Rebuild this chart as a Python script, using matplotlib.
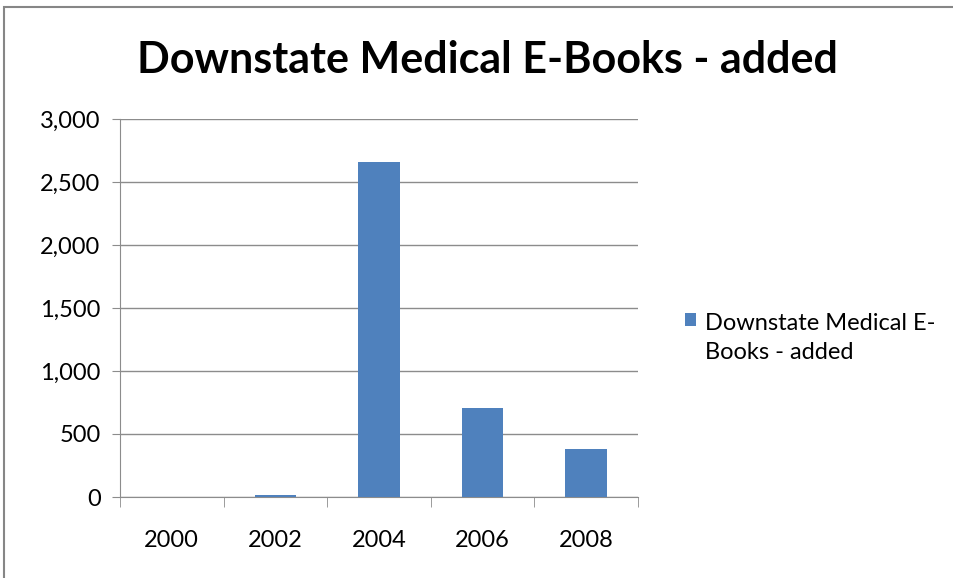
import matplotlib.pyplot as plt
import matplotlib.ticker as mticker
from matplotlib.patches import Rectangle
import numpy as np

years = ['2000', '2002', '2004', '2006', '2008']
ebooks_added = [0, 15, 2660, 706, 381]
series_name = 'Downstate Medical E-\nBooks - added'

plt.rcParams['font.family'] = ['Lato', 'DejaVu Sans']

fig = plt.figure(figsize=(9.54, 5.78), dpi=100)
ax = fig.add_axes([120 / 954, 1 - 497 / 578, 518 / 954, 378 / 578])

x = np.arange(len(years))
ax.bar(x, ebooks_added, width=0.4, color='#4f81bd', label=series_name, zorder=3)

ax.set_xlim(-0.5, len(years) - 0.5)
ax.set_ylim(0, 3000)
ax.yaxis.set_major_locator(mticker.MultipleLocator(500))
ax.yaxis.set_major_formatter(mticker.StrMethodFormatter('{x:,.0f}'))
ax.grid(axis='y', color='#8c8c8c', linewidth=1, zorder=0)

# category labels centered, tick marks between categories
ax.set_xticks(x)
ax.set_xticklabels(years)
ax.set_xticks(np.arange(-0.5, len(years)), minor=True)
ax.tick_params(axis='x', which='major', length=0, pad=24, labelsize=17)
ax.tick_params(axis='x', which='minor', length=7, color='#8c8c8c', direction='out')
ax.tick_params(axis='y', length=6, color='#8c8c8c', labelsize=17, pad=8)

for side in ['top', 'right']:
    ax.spines[side].set_visible(False)
for side in ['left', 'bottom']:
    ax.spines[side].set_color('#8c8c8c')

fig.text(487 / 954, 1 - 60 / 578, 'Downstate Medical E-Books - added',
         ha='center', va='center', fontsize=31, fontweight='bold')

leg = ax.legend(loc='center left', bbox_to_anchor=(664 / 954, 1 - 338 / 578),
                bbox_transform=fig.transFigure, frameon=False, fontsize=17,
                handlelength=0.45, handleheight=0.45, handletextpad=0.4)
leg.get_texts()[0].set_linespacing(1.45)
for col in leg._legend_handle_box.get_children():
    for row in col.get_children():
        row.align = 'top'

# outer chart border
fig.patches.append(Rectangle((4 / 954, -0.01), 1.0, 1 - 7 / 578 + 0.01,
                             transform=fig.transFigure, fill=False,
                             edgecolor='#868686', linewidth=1.5))

fig.savefig('out.png', dpi=100)
